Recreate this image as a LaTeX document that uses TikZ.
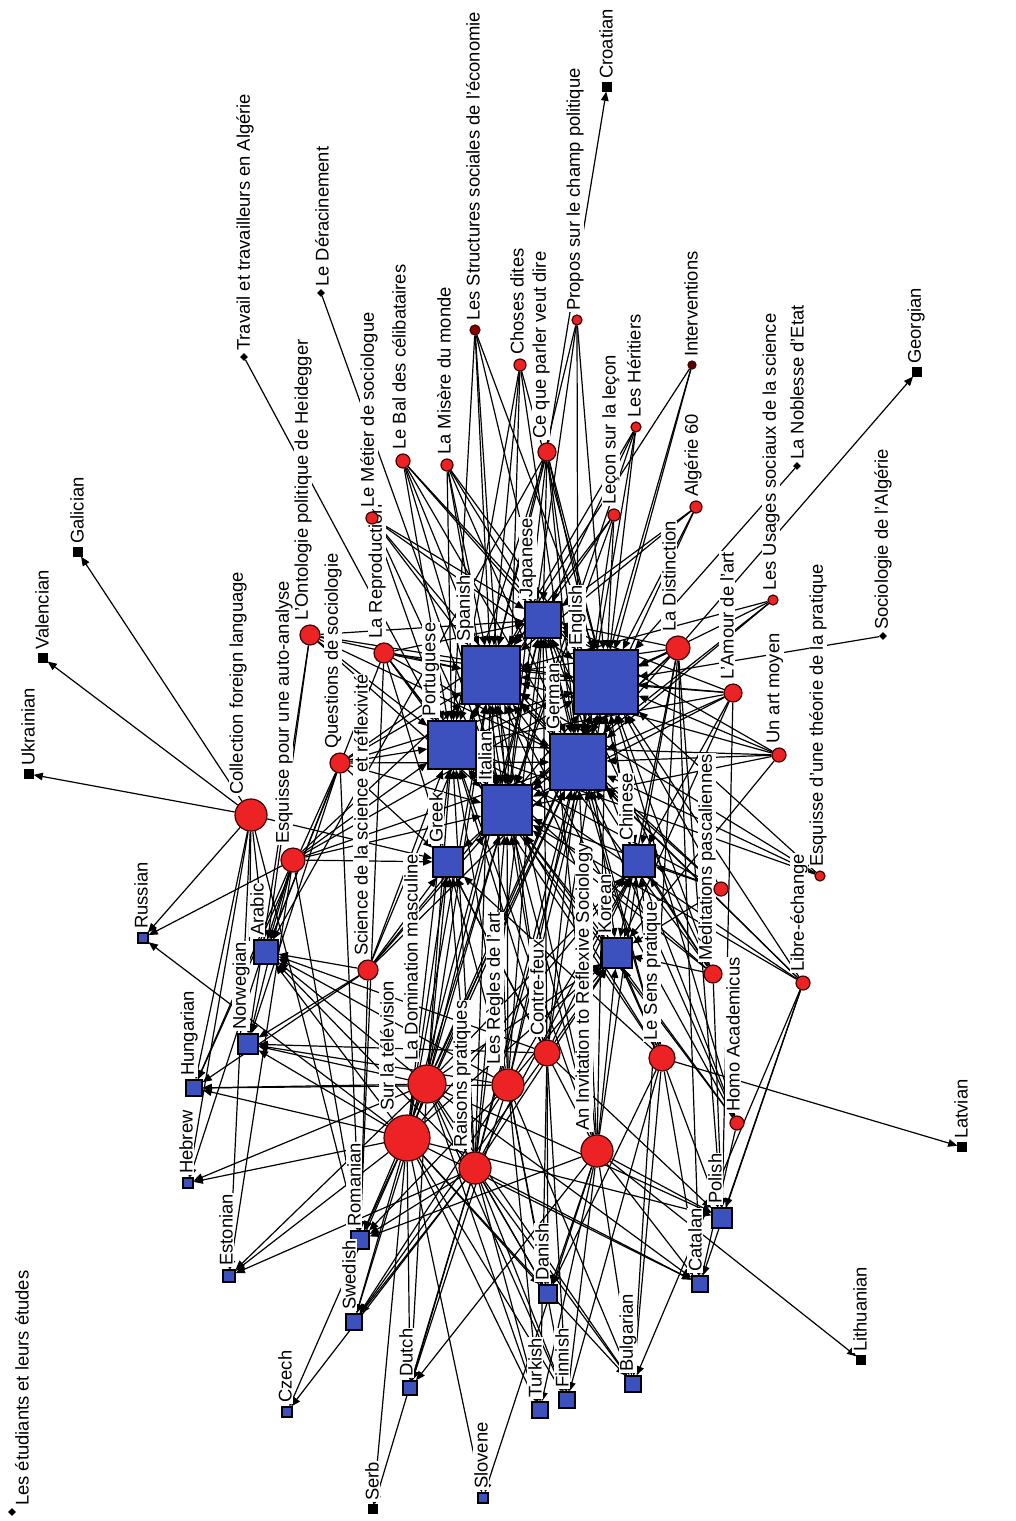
\documentclass[tikz,border=0pt]{standalone}
\usepackage{fontspec}
\setmainfont{Liberation Sans}
\usetikzlibrary{arrows.meta,shapes.geometric}
\pgfdeclarelayer{edges}
\pgfsetlayers{edges,main}
\definecolor{bkred}{RGB}{236,34,36}
\definecolor{lgblue}{RGB}{60,80,190}
\tikzset{
 book/.style={circle,fill=bkred,draw=black!75!red,line width=0.6pt,inner sep=0pt},
 lang/.style={rectangle,fill=lgblue,draw=black,line width=0.6pt,inner sep=0pt},
 dotnode/.style={diamond,fill=black,inner sep=0pt,minimum size=4pt},
 lbl/.style={rotate=90,anchor=west,font=\fontsize{9.2}{10}\selectfont,inner sep=0.4pt,fill=white},
 edge/.style={line width=0.6pt,-{Triangle[length=4.6pt,width=3.8pt]}},
}
\newcommand\booknode[6][]{\node[book,minimum size=#5pt,#1] (#2) at (#3,#4) {};
 \node[lbl] (#2-lab) at ({#3-#5+3},{#4-#5-3}) {#6};}
\newcommand\langnode[6][]{\node[lang,minimum size=#5pt,#1] (#2) at (#3,#4) {};
 \node[lbl] (#2-lab) at ({#3-#5+3},{#4-#5-3}) {#6};}
\newcommand\dotbook[5]{\node[dotnode] (#1) at (#2,#3) {};
 \node[lbl] (#1-lab) at (#4,{#3-5}) {#5};}
\begin{document}
\begin{tikzpicture}[x=0.5pt,y=-0.5pt]
\useasboundingbox (0,0) rectangle (1016,1521);
% languages
\langnode{en}{606}{682}{32}{English}
\langnode{es}{491}{675}{29}{Spanish}
\langnode{de}{578}{762}{28}{German}
\langnode{it}{507}{810}{25}{Italian}
\langnode{pt}{452}{745}{24}{Portuguese}
\langnode{ja}{543}{620}{18}{Japanese}
\langnode{zh}{639}{861}{16}{Chinese}
\langnode{el}{448}{862}{15}{Greek}
\langnode{ko}{617}{953}{15}{Korean}
\langnode{ar}{266}{952}{12}{Arabic}
\langnode{no}{248}{1044}{10}{Norwegian}
\langnode{hu}{194}{1088}{8}{Hungarian}
\langnode{ru}{143}{938}{5}{Russian}
\langnode{he}{188}{1183}{5}{Hebrew}
\langnode{et}{229}{1276}{6}{Estonian}
\langnode{ro}{360}{1240}{9}{Romanian}
\langnode{sv}{354}{1322}{8}{Swedish}
\langnode{cs}{287}{1412}{5}{Czech}
\langnode{nl}{410}{1388}{7}{Dutch}
\langnode[fill=black]{sr}{373}{1509}{4}{Serb}
\langnode{sl}{483}{1498}{5}{Slovene}
\langnode{tr}{540}{1410}{8}{Turkish}
\langnode{da}{548}{1294}{9}{Danish}
\langnode{fi}{567}{1400}{8}{Finnish}
\langnode{bg}{633}{1384}{8}{Bulgarian}
\langnode{ca}{700}{1284}{8}{Catalan}
\langnode{pl}{722}{1218}{10}{Polish}
\langnode[fill=black]{lt}{861}{1360}{4}{Lithuanian}
\langnode[fill=black]{lv}{962}{1147}{4}{Latvian}
\langnode[fill=black]{ka}{917}{372}{4}{Georgian}
\langnode[fill=black]{hr}{607}{87}{4}{Croatian}
\langnode[fill=black]{uk}{29}{774}{4}{Ukrainian}
\langnode[fill=black]{va}{43}{658}{4}{Valencian}
\langnode[fill=black]{gl}{78}{552}{4}{Galician}
% books
\booknode{col}{251}{815}{16}{Collection foreign language}
\booknode{esq}{293}{860}{12}{Esquisse pour une auto-analyse}
\booknode{que}{340}{763}{10}{Questions de sociologie}
\booknode{ont}{310}{635}{10}{L'Ontologie politique de Heidegger}
\booknode{sci}{368}{970}{10}{Science de la science et réflexivité}
\booknode{rep}{384}{653}{10}{La Reproduction}
\booknode{met}{372}{518}{6}{Le Métier de sociologue}
\booknode{bal}{403}{461}{7}{Le Bal des célibataires}
\booknode{mis}{447}{465}{6}{La Misère du monde}
\booknode[fill=red!55!black]{str}{475}{330}{5}{Les Structures sociales de l'économie}
\booknode{cho}{520}{365}{6}{Choses dites}
\booknode{cpv}{547}{452}{9}{Ce que parler veut dire}
\booknode{pro}{577}{320}{5}{Propos sur le champ politique}
\booknode[fill=red!35!black]{int}{692}{365}{4}{Interventions}
\booknode{her}{636}{427}{5}{Les Héritiers}
\booknode{lec}{614}{515}{6}{Leçon sur la leçon}
\booknode{alg}{696}{507}{6}{Algérie 60}
\booknode{dis}{678}{648}{12}{La Distinction}
\booknode{usa}{773}{600}{5}{Les Usages sociaux de la science}
\booknode{amo}{733}{693}{9}{L'Amour de l'art}
\booknode{art}{779}{755}{7}{Un art moyen}
\booknode{eth}{820}{876}{5}{Esquisse d'une théorie de la pratique}
\booknode{med}{713}{974}{9}{Méditations pascaliennes}
\node[book,minimum size=7pt] (unk) at (721,889) {};
\booknode{lib}{803}{983}{7}{Libre-échange}
\booknode{hom}{737}{1123}{7}{Homo Academicus}
\booknode{sen}{662}{1058}{13}{Le Sens pratique}
\booknode{inv}{597}{1151}{16}{An Invitation to Reflexive Sociology}
\booknode{con}{547}{1053}{13}{Contre-feux}
\booknode{reg}{508}{1085}{16}{Les Règles de l'art}
\booknode{rai}{475}{1168}{16}{Raisons pratiques}
\booknode{dom}{427}{1084}{19}{La Domination masculine}
\booknode{sur}{407}{1138}{23}{Sur la télévision}
\dotbook{nob}{797}{466}{797}{La Noblesse d'Etat}
\dotbook{soc}{883}{636}{883}{Sociologie de l'Algérie}
\dotbook{tra}{244}{357}{245}{Travail et travailleurs en Algérie}
\dotbook{der}{321}{293}{322}{Le Déracinement}
\dotbook{etu}{12}{1512}{22}{Les étudiants et leurs études}
% connectors
\begin{pgfonlayer}{edges}
\foreach \b/\ls in {
 sur/{en,es,de,it,pt,ja,zh,el,ko,ar,no,pl,ro,da,hu,sv,tr,fi,bg,ca,nl,et,ru,he,cs,sl,sr},
 dom/{en,es,de,it,pt,ja,zh,el,ko,ar,no,pl,ro,da,hu,sv,tr,fi,bg,ca,nl,et,he},
 rai/{en,es,de,it,pt,ja,zh,el,ko,ar,ro,da,sv,tr,fi,bg,ca,nl,et,cs,sr},
 reg/{en,es,de,it,pt,ja,zh,el,ko,ar,no,ro,da,hu,sv,tr,fi,bg,nl},
 inv/{en,es,de,it,pt,ja,zh,el,ko,pl,ro,da,tr,fi,bg,ca,nl,sl,lt},
 con/{en,es,de,it,pt,ja,zh,el,ko,ar,no,pl,da,sv,tr,fi},
 sen/{en,es,de,it,pt,ja,zh,el,ko,pl,da,fi,bg,ca,lv},
 col/{uk,va,gl,ru,ar,no,hu,he,et,el,ro},
 dis/{en,es,de,it,pt,ja,zh,ko,el,pl,ca,ka,bg},
 esq/{en,es,de,it,pt,ar,no,hu,he,et,ro,el,ru},
 que/{en,es,de,it,pt,ja,ar,el,no,hu,ro},
 rep/{en,es,de,it,pt,ja,el,ko,ar,ro},
 sci/{en,es,de,it,pt,el,ar,no,hu,ro},
 ont/{en,es,de,it,pt,ja,ar,no},
 cpv/{en,es,de,it,pt,ja,zh,ko,hr,ar},
 amo/{en,es,de,it,pt,ja,zh,ko,pl},
 med/{en,es,de,it,pt,ja,zh,ko,pl},
 unk/{en,es,de,it,pt,zh,ko},
 art/{en,es,de,it,pt,ja,ko},
 lib/{en,es,de,it,pt,ca,bg,pl},
 hom/{en,es,de,it,pt,ja,ca},
 met/{en,es,de,it,pt,ja},
 bal/{en,es,de,it,pt,ja},
 mis/{en,es,de,it,pt,ja},
 cho/{en,es,de,it,pt},
 her/{en,es,de,it,ja},
 lec/{en,es,de,it,pt},
 alg/{en,es,de,ja},
 usa/{en,es,de,it},
 eth/{en,de,es,pt},
 str/{en,es,de,it,pt},
 pro/{en,es,de,it},
 int/{en,es,de},
 nob/{en},
 soc/{en},
 tra/{pt},
 der/{it}}
 {\foreach \l in \ls {\draw[edge] (\b) -- (\l);}}
\end{pgfonlayer}
\end{tikzpicture}
\end{document}
